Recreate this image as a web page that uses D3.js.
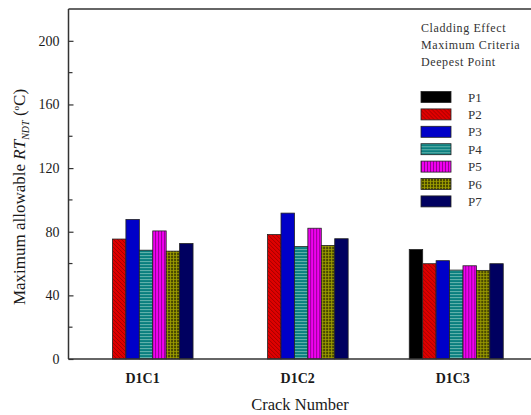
<!DOCTYPE html>
<html>
<head>
<meta charset="utf-8">
<script src="https://cdn.jsdelivr.net/npm/d3@7"></script>
<style>
  html, body { margin: 0; padding: 0; background: #fff; }
  svg { display: block; }
</style>
</head>
<body>
<svg id="chart" width="531" height="415"></svg>
<script>
// Crack cases along the x axis
const cracks = ["D1C1", "D1C2", "D1C3"];
// Evaluation points (one bar per point within each crack)
const points = ["P1", "P2", "P3", "P4", "P5", "P6", "P7"];
// Maximum allowable RT_NDT (°C) per point, one array per crack
const d1c1 = [0, 75.4, 87.7, 68.4, 80.5, 67.8, 72.6];
const d1c2 = [0, 78.2, 91.7, 70.7, 82.2, 71.4, 75.6];
const d1c3 = [68.8, 59.9, 61.8, 55.9, 58.6, 55.7, 59.9];
const yTicks = [0, 40, 80, 120, 160, 200];
const yMinorTicks = [20, 60, 100, 140, 180];
const legendNotes = ["Cladding Effect", "Maximum Criteria", "Deepest Point"];

const values = [d1c1, d1c2, d1c3];
const SERIF = "'Liberation Serif', 'Times New Roman', serif";

const svg = d3.select("#chart");
const plotLeft = 68.5, plotTop = 9, plotBottom = 359;

const x = d3.scaleLinear().domain([0.5, 3.5]).range([plotLeft, 533.8]);
const y = d3.scaleLinear().domain([0, 220]).range([plotBottom, plotTop]);
const step = x(2) - x(1);
const inner = d3.scaleBand().domain(points).range([-step * 0.303, step * 0.303]).padding(0);

// Fill patterns for each point
const defs = svg.append("defs");
function pattern(id, bg, draw, w, h) {
  const p = defs.append("pattern").attr("id", id)
    .attr("patternUnits", "userSpaceOnUse").attr("width", w).attr("height", h);
  p.append("rect").attr("width", w).attr("height", h).attr("fill", bg);
  draw(p);
}
pattern("p2", "#e00000", p => {
  p.append("path").attr("d", "M-1,3 L1,5 M0,0 L4,4 M3,-1 L5,1")
    .attr("stroke", "#900000").attr("stroke-width", 0.8);
}, 4, 4);
pattern("p4", "#0a7f7f", p => {
  p.append("rect").attr("y", 0).attr("width", 4).attr("height", 1.1).attr("fill", "#5fb0aa");
}, 4, 3);
pattern("p5", "#f000f0", p => {
  p.append("rect").attr("x", 0).attr("width", 0.9).attr("height", 4).attr("fill", "#8c008c");
}, 3, 4);
pattern("p6", "#4a4a00", p => {
  p.append("rect").attr("x", 0).attr("width", 0.7).attr("height", 3).attr("fill", "#b8b800");
  p.append("rect").attr("y", 0).attr("width", 3).attr("height", 0.7).attr("fill", "#a0a000");
}, 3, 3);

const fills = {
  P1: "#000000", P2: "url(#p2)", P3: "#0000c8", P4: "url(#p4)",
  P5: "url(#p5)", P6: "url(#p6)", P7: "#000060"
};

// Bars
const groups = svg.append("g").selectAll("g").data(cracks).join("g")
  .attr("transform", (d, i) => `translate(${x(i + 1)},0)`);
groups.selectAll("rect")
  .data((d, i) => points.map((p, j) => ({ p, v: values[i][j] })).filter(e => e.v > 0))
  .join("rect")
  .attr("x", d => inner(d.p))
  .attr("width", inner.bandwidth())
  .attr("y", d => y(d.v))
  .attr("height", d => y(0) - y(d.v))
  .attr("fill", d => fills[d.p])
  .attr("stroke", "#222")
  .attr("stroke-width", 0.8);

// Frame: top line, left and bottom axes
svg.append("line").attr("x1", plotLeft).attr("x2", 531).attr("y1", plotTop).attr("y2", plotTop)
  .attr("stroke", "#333").attr("stroke-width", 1.5);

const yAxis = d3.axisLeft(y).tickValues(yTicks).tickSizeInner(-5).tickSizeOuter(0).tickPadding(9);
const gy = svg.append("g").attr("transform", `translate(${plotLeft},0)`).call(yAxis);
gy.select(".domain").attr("d", `M0,${plotBottom}V${plotTop}`)
  .attr("stroke", "#333").attr("stroke-width", 1.5);
gy.selectAll(".tick line").attr("stroke", "#333").attr("stroke-width", 1.2);
gy.selectAll(".tick text").attr("font-size", 14).attr("fill", "#1a1a1a")
  .attr("font-family", SERIF);
svg.append("g").selectAll("line").data(yMinorTicks).join("line")
  .attr("x1", plotLeft).attr("x2", plotLeft + 4).attr("y1", d => y(d)).attr("y2", d => y(d))
  .attr("stroke", "#333").attr("stroke-width", 1.2);

const xAxis = d3.axisBottom(x).tickValues([1, 2, 3]).tickFormat((d, i) => cracks[i])
  .tickSize(0).tickPadding(14);
const gx = svg.append("g").attr("transform", `translate(0,${plotBottom})`).call(xAxis);
gx.select(".domain").attr("d", `M${plotLeft},0H531`).attr("stroke", "#333").attr("stroke-width", 1.5);
gx.selectAll(".tick text").attr("font-size", 14).attr("font-weight", "bold").attr("fill", "#1a1a1a")
  .attr("font-family", SERIF).attr("dx", -4);

// Axis titles
svg.append("text").attr("x", 300).attr("y", 410).attr("text-anchor", "middle")
  .attr("font-family", SERIF).attr("font-size", 16.5).attr("fill", "#1a1a1a").text("Crack Number");

const yt = svg.append("text").attr("transform", "translate(25,197) rotate(-90)")
  .attr("text-anchor", "middle").attr("font-family", SERIF)
  .attr("font-size", 17).attr("fill", "#1a1a1a");
yt.append("tspan").text("Maximum allowable ");
yt.append("tspan").attr("font-style", "italic").text("RT");
yt.append("tspan").attr("font-style", "italic").attr("font-size", 10).attr("dy", 4).text("NDT");
yt.append("tspan").attr("dy", -4).text(" (");
yt.append("tspan").attr("font-size", 9).attr("dy", -6).text("o");
yt.append("tspan").attr("dy", 6).text("C)");

// Legend notes and entries
svg.append("g").selectAll("text").data(legendNotes).join("text")
  .attr("x", 421).attr("y", (d, i) => 32 + i * 17)
  .attr("font-family", SERIF).attr("font-size", 12).attr("letter-spacing", 0.6)
  .attr("fill", "#333").text(d => d);

const lg = svg.append("g").selectAll("g").data(points).join("g")
  .attr("transform", (d, i) => `translate(421,${97 + i * 17.4})`);
lg.append("rect").attr("x", 0).attr("y", -5.5).attr("width", 30).attr("height", 11)
  .attr("fill", d => fills[d]).attr("stroke", "#222").attr("stroke-width", 0.8);
lg.append("text").attr("x", 47).attr("y", 4.5)
  .attr("font-family", SERIF).attr("font-size", 13).attr("fill", "#333")
  .text(d => d);
</script>
</body>
</html>
